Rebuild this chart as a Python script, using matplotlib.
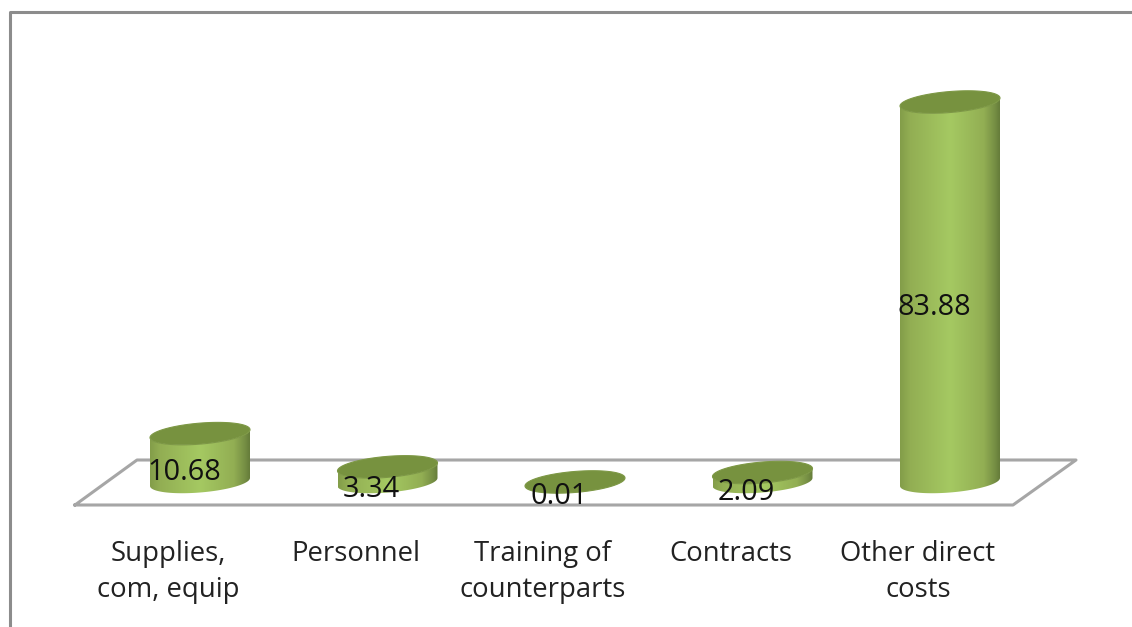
import numpy as np
import matplotlib
matplotlib.use("Agg")
import matplotlib.pyplot as plt
from matplotlib.colors import LinearSegmentedColormap
from matplotlib.lines import Line2D
from matplotlib.patches import PathPatch
from matplotlib.path import Path
from matplotlib.transforms import ScaledTranslation

categories = ["Supplies,\ncom, equip", "Personnel", "Training of\ncounterparts",
              "Contracts", "Other direct\ncosts"]
values = [10.68, 3.34, 0.01, 2.09, 83.88]

W, H = 1132, 627
plt.rcParams["font.family"] = ["Open Sans", "DejaVu Sans"]
fig = plt.figure(figsize=(W / 100, H / 100), dpi=100, facecolor="white")

# axes: zero line at the centre of the cylinder bases
floor_front_px = 505
ax = fig.add_axes([0, (H - floor_front_px) / H, 1, floor_front_px / H])
ax.set_facecolor("none")
for s in ax.spines.values():
    s.set_visible(False)

CAT_PX = 187.5
VAL_PX = 4.53
BASE_Y = 482
FIRST_X = 200
ax.set_yticks([])

# frame and floor (decoration, in image pixels)
grey = "#8c8c8c"
fig.add_artist(Line2D([10 / W, 10 / W, 1], [0, 1 - 12 / H, 1 - 12 / H],
                      color=grey, lw=2.2, transform=fig.transFigure, zorder=0))
floor = [(75, 505), (137, 460), (1076, 460), (1013, 505), (75, 505)]
fx, fy = zip(*floor)
fig.add_artist(Line2D([a / W for a in fx], [1 - b / H for b in fy],
                      color="#a6a6a6", lw=2.2, transform=fig.transFigure, zorder=0))

# cylinders
cmap = LinearSegmentedColormap.from_list(
    "cyl", [(0, "#839d49"), (0.10, "#92ae53"), (0.5, "#a5c962"),
            (0.84, "#92ae53"), (0.95, "#768f44"), (1, "#657c3a")])
grad = np.linspace(0, 1, 256).reshape(1, -1)
A = 50 / CAT_PX
B = 10.5 / VAL_PX
TILT = 4 / VAL_PX


def ellipse(cx, cy, t):
    return np.column_stack([cx + A * np.cos(t), cy + B * np.sin(t) + TILT * np.cos(t)])


t_all = np.linspace(0, 2 * np.pi, 121)
t_low = np.linspace(np.pi, 2 * np.pi, 61)
for i, v in enumerate(values):
    low = ellipse(i, 0, t_low)
    up = ellipse(i, v, t_low)[::-1]
    body = Path(np.vstack([low, up, low[:1]]), closed=True)
    im = ax.imshow(grad, cmap=cmap, aspect="auto", interpolation="bilinear",
                   extent=[i - A, i + A, -B - TILT, v + B + TILT], zorder=2)
    im.set_clip_path(PathPatch(body, transform=ax.transData))
    top = Path(np.vstack([ellipse(i, v, t_all), ellipse(i, v, t_all)[:1]]), closed=True)
    ax.add_patch(PathPatch(top, fc="#77923f", ec="#7d9845", lw=0.8, zorder=3))
    ax.annotate(f"{v:.2f}", xy=(i, v / 2), xytext=(-16 * 0.72, -15 * 0.72),
                textcoords="offset points", ha="center", va="center",
                fontsize=20.8, color="#111111", zorder=4)

ax.set_xlim(-FIRST_X / CAT_PX, (W - FIRST_X) / CAT_PX)
ax.set_ylim((BASE_Y - floor_front_px) / VAL_PX, BASE_Y / VAL_PX)

# category labels as real tick labels, shifted left as in the 3-D projection
ax.set_xticks(range(len(categories)), categories)
ax.tick_params(axis="x", length=0, pad=25, labelsize=19.8, labelcolor="#222222")
shift = ScaledTranslation(-32 / 100, 0, fig.dpi_scale_trans)
for lab in ax.get_xticklabels():
    lab.set_transform(lab.get_transform() + shift)
    lab.set_linespacing(1.39)
    lab.set_ha("center")

fig.savefig("out.png", dpi=100, facecolor="white")
